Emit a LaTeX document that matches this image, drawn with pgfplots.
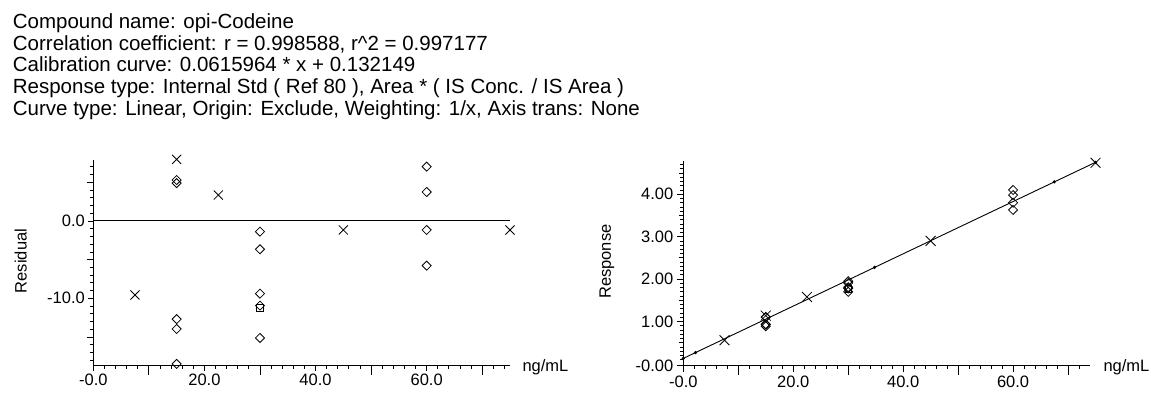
\documentclass[border=0pt]{standalone}
\usepackage{fontspec}
\setmainfont{Liberation Sans}
\usepackage{pgfplots}
\usepackage{pgfplotstable}
\pgfplotsset{compat=1.18}

\newcommand\hdr{\fontsize{20.5bp}{22bp}\selectfont}
\newcommand\tck{\fontsize{16.5bp}{18bp}\selectfont}

% residual plot (left)
\pgfplotstableread{
x r
7.5 -9.57
15 7.97
22.5 3.36
45 -1.16
75 -1.16
}\calresid
\pgfplotstableread{
x r
15 5.30
15 4.90
15 -12.70
15 -13.97
15 -18.49
30 -1.38
30 -3.66
30 -9.40
30 -10.95
30 -15.13
60 7.03
60 3.75
60 -1.16
60 -5.78
}\qcresid
\pgfplotstableread{
x r
30 -11.25
}\sqresid
% response plot (right)
\pgfplotstableread{
x y
7.5 0.56
15 1.14
22.5 1.58
45 2.90
75 4.74
}\calresp
\pgfplotstableread{
x y
15 1.10
15 1.11
15 0.94
15 0.93
15 0.89
30 1.95
30 1.91
30 1.81
30 1.78
30 1.70
60 4.10
60 3.98
60 3.80
60 3.63
}\qcresp
\pgfplotstableread{
x y
30 1.77
}\sqresp
\pgfplotstableread{
x y
0 0.132
2.2 0.268
34.8 2.276
67.5 4.290
75 4.752
}\fitline

\pgfplotsset{
  resstyle/.style={
    scale only axis, clip=false,
    axis lines*=left,
    tick align=outside,
    axis line style={black, line width=1bp},
    tick style={black, line width=0.8bp},
    major tick length=5bp, minor tick length=3bp,
    tick label style={font=\tck, black},
    label style={font=\tck, black},
  },
  calmark/.style={only marks, mark=x, mark size=6.4bp, mark options={line width=0.8bp, black}},
  qcmark/.style={only marks, mark=square, mark size=3.2bp, mark options={rotate=45, line width=0.8bp, black}},
}

\begin{document}
\begin{tikzpicture}[x=1bp,y=1bp]
\useasboundingbox (0,0) rectangle (1151,394);
\node[anchor=base west, inner sep=0, font=\hdr] at (12.7,365.7) {Compound name: opi-Codeine};
\node[anchor=base west, inner sep=0, font=\hdr] at (12.7,344.0) {Correlation coefficient: r = 0.998588, r\textasciicircum 2 = 0.997177};
\node[anchor=base west, inner sep=0, font=\hdr] at (12.7,322.3) {Calibration curve: 0.0615964 * x + 0.132149};
\node[anchor=base west, inner sep=0, font=\hdr] at (12.7,300.7) {Response type: Internal Std ( Ref 80 ), Area * ( IS Conc. / IS Area )};
\node[anchor=base west, inner sep=0, font=\hdr] at (12.7,279.0) {Curve type: Linear, Origin: Exclude, Weighting: 1/x, Axis trans: None};

\begin{axis}[resstyle,
  at={(93.3bp,28.3bp)}, anchor=south west,
  width=416.7bp, height=205.7bp,
  xmin=0, xmax=75, ymin=-18.72, ymax=7.89,
  xtick={0,20,40,60}, xticklabels={-0.0,20.0,40.0,60.0},
  extra x ticks={10,30,50,70}, extra x tick labels={},
  extra x tick style={major tick length=9bp},
  minor xtick={2,4,6,8,12,14,16,18,22,24,26,28,32,34,36,38,42,44,46,48,52,54,56,58,62,64,66,68,72,74},
  ytick={-10,0}, yticklabels={-10.0,0.0},
  extra y ticks={-15,-5,5}, extra y tick labels={},
  extra y tick style={major tick length=6bp},
  minor ytick={-18,-17,-16,-14,-13,-12,-11,-9,-8,-7,-6,-4,-3,-2,-1,1,2,3,4,6,7},
  ylabel={Residual},
  ylabel style={at={(axis description cs:-0.174,0.509)}, anchor=center},
  xlabel={ng/mL},
  xlabel style={at={(axis description cs:1,0)}, anchor=west, xshift=9bp, yshift=-2bp},
]
\addplot[black, line width=1bp, forget plot] coordinates {(0,0) (75,0)};
\addplot[calmark] table[x=x,y=r] {\calresid};
\addplot[qcmark] table[x=x,y=r] {\qcresid};
\addplot[only marks, mark=square, mark size=3.2bp, mark options={line width=0.8bp, black}] table[x=x,y=r] {\sqresid};
\end{axis}

\begin{axis}[resstyle,
  at={(683.3bp,28.3bp)}, anchor=south west,
  width=406.7bp, height=205bp,
  xmin=0, xmax=74, ymin=-0.04, ymax=4.79,
  xtick={0,20,40,60}, xticklabels={-0.0,20.0,40.0,60.0},
  extra x ticks={10,30,50,70}, extra x tick labels={},
  extra x tick style={major tick length=9bp},
  minor xtick={2,4,6,8,12,14,16,18,22,24,26,28,32,34,36,38,42,44,46,48,52,54,56,58,62,64,66,68,72},
  ytick={-0.04,1,2,3,4}, yticklabels={-0.00,1.00,2.00,3.00,4.00},
  major tick length=6.5bp,
  extra y ticks={0.5,1.5,2.5,3.5,4.5}, extra y tick labels={},
  extra y tick style={major tick length=4.5bp},
  minor ytick={0.1,0.2,0.3,0.4,0.6,0.7,0.8,0.9,1.1,1.2,1.3,1.4,1.6,1.7,1.8,1.9,2.1,2.2,2.3,2.4,2.6,2.7,2.8,2.9,3.1,3.2,3.3,3.4,3.6,3.7,3.8,3.9,4.1,4.2,4.3,4.4,4.6,4.7},
  ylabel={Response},
  ylabel style={at={(axis description cs:-0.1876,0.508)}, anchor=center},
  xlabel={ng/mL},
  xlabel style={at={(axis description cs:1,0)}, anchor=west, xshift=10bp, yshift=-2bp},
]
\addplot[black, line width=0.9bp, mark=*, mark size=1.1bp, mark options={black}] table[x=x,y=y] {\fitline};
\addplot[calmark, mark size=7bp] table[x=x,y=y] {\calresp};
\addplot[qcmark] table[x=x,y=y] {\qcresp};
\addplot[only marks, mark=square, mark size=3.2bp, mark options={line width=0.8bp, black}] table[x=x,y=y] {\sqresp};
\end{axis}
\end{tikzpicture}
\end{document}
